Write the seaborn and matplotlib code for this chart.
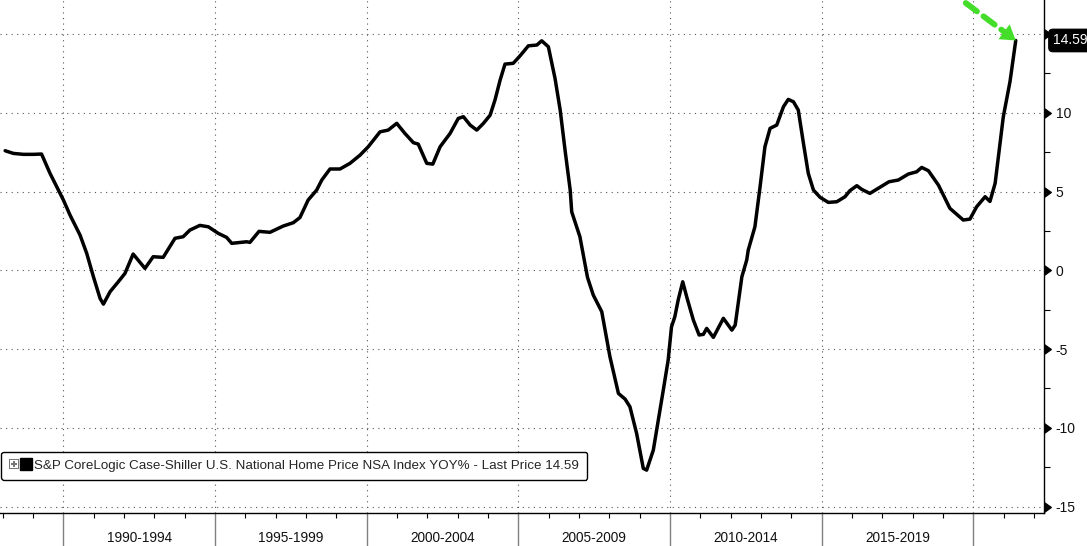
import matplotlib
matplotlib.use("Agg")
import matplotlib.pyplot as plt
import matplotlib.transforms as mtransforms
from matplotlib.lines import Line2D
from matplotlib.legend_handler import HandlerTuple
import pandas as pd
import seaborn as sns

# values (decimal year, YoY %)
years = [1988.08, 1988.35, 1988.68, 1989.01, 1989.28, 1989.56, 1989.78, 1990.00, 1990.22, 1990.55,
         1990.77, 1990.99, 1991.21, 1991.32, 1991.54, 1991.81, 1992.03, 1992.30, 1992.69, 1992.96,
         1993.29, 1993.68, 1993.95, 1994.17, 1994.50, 1994.78, 1995.11, 1995.38, 1995.55, 1996.04,
         1996.15, 1996.45, 1996.81, 1997.25, 1997.58, 1997.80, 1998.07, 1998.35, 1998.52, 1998.79,
         1999.12, 1999.45, 1999.78, 2000.05, 2000.44, 2000.71, 2000.99, 2001.26, 2001.54, 2001.70,
         2001.98, 2002.18, 2002.42, 2002.75, 2003.02, 2003.19, 2003.41, 2003.63, 2003.85, 2004.07,
         2004.23, 2004.40, 2004.56, 2004.83, 2005.05, 2005.33, 2005.61, 2005.77, 2005.99, 2006.21,
         2006.38, 2006.54, 2006.71, 2006.76, 2007.03, 2007.28, 2007.47, 2007.75, 2008.02, 2008.30,
         2008.52, 2008.68, 2008.90, 2009.12, 2009.23, 2009.45, 2009.56, 2009.78, 2009.94, 2010.05,
         2010.16, 2010.27, 2010.42, 2010.55, 2010.77, 2010.96, 2011.10, 2011.21, 2011.43, 2011.76,
         2012.04, 2012.15, 2012.37, 2012.53, 2012.58, 2012.80, 2012.97, 2013.13, 2013.30, 2013.52,
         2013.74, 2013.90, 2014.07, 2014.23, 2014.40, 2014.56, 2014.73, 2014.95, 2015.22, 2015.50,
         2015.77, 2015.93, 2016.16, 2016.32, 2016.59, 2016.81, 2017.22, 2017.53, 2017.86, 2018.13,
         2018.30, 2018.52, 2018.85, 2019.23, 2019.67, 2019.89, 2020.11, 2020.39, 2020.55, 2020.72,
         2020.99, 2021.21, 2021.40]
yoy = [7.59, 7.42, 7.36, 7.36, 7.38, 6.15, 5.30, 4.46, 3.50, 2.23,
       1.07, -0.41, -1.79, -2.15, -1.36, -0.73, -0.20, 1.03, 0.12, 0.86,
       0.82, 2.03, 2.13, 2.55, 2.85, 2.76, 2.34, 2.09, 1.71, 1.81,
       1.77, 2.47, 2.41, 2.81, 3.02, 3.35, 4.46, 5.09, 5.73, 6.43,
       6.43, 6.79, 7.31, 7.84, 8.79, 8.90, 9.33, 8.69, 8.10, 8.01,
       6.79, 6.74, 7.84, 8.69, 9.64, 9.75, 9.22, 8.90, 9.33, 9.85,
       10.81, 12.08, 13.09, 13.14, 13.60, 14.25, 14.30, 14.57, 14.19, 12.18,
       10.17, 7.63, 5.09, 3.71, 2.13, -0.45, -1.57, -2.63, -5.49, -7.82,
       -8.18, -8.67, -10.36, -12.58, -12.69, -11.42, -10.15, -7.60, -5.70, -3.59,
       -2.95, -1.89, -0.73, -1.68, -3.16, -4.11, -4.07, -3.69, -4.26, -3.05,
       -3.80, -3.48, -0.41, 0.65, 1.28, 2.76, 5.30, 7.84, 9.01, 9.22,
       10.38, 10.85, 10.70, 10.17, 8.06, 6.15, 5.09, 4.63, 4.31, 4.35,
       4.67, 5.05, 5.37, 5.14, 4.88, 5.14, 5.62, 5.73, 6.11, 6.25,
       6.53, 6.32, 5.41, 3.93, 3.19, 3.25, 4.03, 4.67, 4.37, 5.52,
       9.75, 11.97, 14.59]

periods = ["1990-1994", "1995-1999", "2000-2004", "2005-2009", "2010-2014", "2015-2019"]
period_starts = [1990, 1995, 2000, 2005, 2010, 2015]
y_ticks = [-15, -10, -5, 0, 5, 10, 15]
y_labels = ["-15", "-10", "-5", "0", "5", "10", ""]
series_name = "S&P CoreLogic Case-Shiller U.S. National Home Price NSA Index YOY%"
last_price = 14.59

sns.set_style("white")
plt.rcParams['font.family'] = ['Liberation Sans', 'DejaVu Sans']
plt.rcParams['axes.unicode_minus'] = False

fig = plt.figure(figsize=(10.87, 5.46), dpi=100)
ax = fig.add_axes([0, 0.0599, 0.9604, 0.9401])

df = pd.DataFrame({"year": years, "yoy": yoy})
sns.lineplot(data=df, x="year", y="yoy", color="black", linewidth=2.5, ax=ax)

ax.set_xlim(1987.91, 2022.33)
ax.set_ylim(-15.43, 17.16)
ax.set_xlabel("")
ax.set_ylabel("")

for s in ["left", "top"]:
    ax.spines[s].set_visible(False)
for s in ["right", "bottom"]:
    ax.spines[s].set_visible(True)
    ax.spines[s].set_color("black")
    ax.spines[s].set_linewidth(1)

# y axis on the right with caret ticks
ax.yaxis.tick_right()
ax.set_yticks(y_ticks)
ax.set_yticklabels(y_labels)
ax.set_yticks([t + 2.5 for t in y_ticks[:-1]], minor=True)
ax.tick_params(axis="y", which="major", length=7, color="black", labelsize=10, pad=1.5,
               labelcolor="#111111", right=True, left=False)
ax.tick_params(axis="y", which="minor", length=4, width=0.8, color="black", right=True, left=False)
for t in ax.yaxis.get_major_ticks():
    t.tick2line.set_marker(9)  # caret right, base at tick
    t.tick2line.set_markersize(7)

# x axis: 5-year separators, yearly minor ticks, period labels
ax.set_xticks(period_starts + [2020])
ax.set_xticks(range(1988, 2023), minor=True)
ax.tick_params(axis="x", which="major", length=24, width=1, color="#808080", labelbottom=False, bottom=True)
ax.tick_params(axis="x", which="minor", length=3.5, width=0.8, color="black", bottom=True)
trans = mtransforms.blended_transform_factory(ax.transData, ax.transAxes)
for start, label in zip(period_starts, periods):
    ax.text(start + 2.5, -0.049, label, transform=trans, ha="center", va="center",
            fontsize=9.8, color="#111111", clip_on=False)

ax.grid(True, which="major", axis="both", color="#555555", linestyle=(0, (1, 4)), linewidth=0.8)

# legend
bp = Line2D([], [], marker=r"$\boxplus$", color="#777777", ls="none", markersize=7,
            markeredgewidth=0)
sq = Line2D([], [], marker="s", color="black", ls="none", markersize=9)
leg = ax.legend([(bp, sq)], [f"{series_name} - Last Price {last_price}"],
                handler_map={tuple: HandlerTuple(ndivide=None, pad=0.25)},
                loc="lower left", bbox_to_anchor=(0.001, 0.065), borderaxespad=0,
                frameon=True, fancybox=True, framealpha=1, edgecolor="black",
                fontsize=9.6, handlelength=1.6, handletextpad=0.3, borderpad=0.6)
leg.get_frame().set_linewidth(1.0)

# green dashed arrow to the last point
green = "#44dd2a"
x_end, y_end = years[-1], yoy[-1]
ax.annotate("", xy=(x_end, y_end), xytext=(-36, 27), textcoords="offset points",
            arrowprops=dict(arrowstyle="-", color=green, lw=4.2, linestyle=(0, (2.4, 1.4)),
                            shrinkA=0, shrinkB=10), annotation_clip=False)
ax.annotate("", xy=(x_end, y_end), xytext=(-8.4, 6.3), textcoords="offset points",
            arrowprops=dict(arrowstyle="-|>,head_length=0.5,head_width=0.32", color=green,
                            lw=0, mutation_scale=21, shrinkA=0, shrinkB=0),
            annotation_clip=False)

# last value tag
ax.annotate(f"{last_price:.2f}", xy=(1, last_price), xycoords=ax.get_yaxis_transform(),
            xytext=(6.5, 0), textcoords="offset points", ha="left", va="center",
            color="white", fontsize=10,
            bbox=dict(boxstyle="round,pad=0.3", fc="black", ec="black"),
            annotation_clip=False, zorder=5)

fig.savefig("out.png", dpi=100)
